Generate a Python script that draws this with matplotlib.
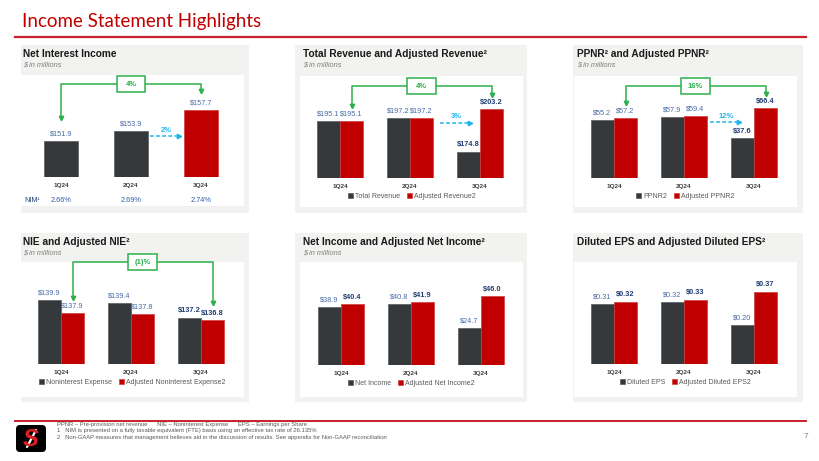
import numpy as np
import matplotlib.pyplot as plt
from matplotlib.patches import Rectangle, FancyBboxPatch
from matplotlib.transforms import blended_transform_factory

plt.rcParams['font.family'] = ['Liberation Sans', 'DejaVu Sans']

W, H = 820, 461

# data
quarters = ['1Q24', '2Q24', '3Q24']
nim = ['2.66%', '2.69%', '2.74%']
net_interest_income = [151.9, 153.9, 157.7]
total_revenue = [195.1, 197.2, 174.8]
adjusted_revenue = [195.1, 197.2, 203.2]
ppnr = [55.2, 57.9, 37.6]
adjusted_ppnr = [57.2, 59.4, 66.4]
nie = [139.9, 139.4, 137.2]
adjusted_nie = [137.9, 137.8, 136.8]
net_income = [38.9, 40.8, 24.7]
adjusted_net_income = [40.4, 41.9, 46.0]
diluted_eps = [0.31, 0.32, 0.20]
adjusted_diluted_eps = [0.32, 0.33, 0.37]

DARK = '#36393C'
RED = '#C00000'
GREEN = '#2DB04B'
CYAN = '#1DB6EA'
BLUE = '#4A6CA6'
NAVY = '#1F3D72'
PANEL = '#F2F2F0'

fig = plt.figure(figsize=(W / 100, H / 100), dpi=100)
bg = fig.add_axes([0, 0, 1, 1])
bg.set_xlim(0, W)
bg.set_ylim(H, 0)
bg.axis('off')

# slide title, rules, footer
bg.text(22, 22, 'Income Statement Highlights', color='#C00000', fontsize=13.5,
        family=['Lato', 'DejaVu Sans'], va='center')
bg.plot([15, 806], [37, 37], color='#C8202A', lw=1.6)
bg.plot([15, 806], [421, 421], color='#C8202A', lw=1.4)

foot = ['PPNR \u2013 Pre-provision net revenue      NIE \u2013 Noninterest Expense      EPS \u2013 Earnings per Share',
        '1   NIM is presented on a fully taxable equivalent (FTE) basis using an effective tax rate of 26.135%',
        '2   Non-GAAP measures that management believes aid in the discussion of results. See appendix for Non-GAAP reconciliation']
for i, line in enumerate(foot):
    bg.text(57, 424 + i * 6.5, line, fontsize=4.2, color='#595959', va='center')
bg.text(808, 436, '7', fontsize=6, color='#7F7F7F', ha='right', va='center')

# logo: black tile, red S, white slash
bg.add_patch(FancyBboxPatch((16, 425), 30, 27, boxstyle='round,pad=0,rounding_size=4',
                            fc='black', ec='none'))
bg.text(31, 439, 'S', fontsize=17, color='#E01E25', weight='bold', style='italic',
        ha='center', va='center')
bg.plot([27, 36], [447, 430], color='white', lw=1.6, solid_capstyle='round')

# panel backgrounds
grays = [(21, 45, 249, 213), (295, 45, 527, 213), (573, 45, 803, 213),
         (21, 233, 249, 402), (295, 233, 527, 402), (573, 233, 803, 402)]
whites = [(21, 75, 244, 206), (300, 76, 523, 207), (574, 76, 797, 207),
          (21, 262, 244, 397), (300, 262, 523, 397), (574, 262, 797, 397)]
for (l, t, r, b) in grays:
    bg.add_patch(Rectangle((l, t), r - l, b - t, fc=PANEL, ec='none'))
for (l, t, r, b) in whites:
    bg.add_patch(Rectangle((l, t), r - l, b - t, fc='white', ec='none'))

titles = [('Net Interest Income', 23, 54, True),
          ('Total Revenue and Adjusted Revenue\u00b2', 303, 54, True),
          ('PPNR\u00b2 and Adjusted PPNR\u00b2', 577, 54, True),
          ('NIE and Adjusted NIE\u00b2', 23, 242, True),
          ('Net Income and Adjusted Net Income\u00b2', 303, 242, True),
          ('Diluted EPS and Adjusted Diluted EPS\u00b2', 577, 242, False)]
for text, x, y, sub in titles:
    bg.text(x, y, text, fontsize=7.3, weight='bold', color='#1A1A1A', va='center')
    if sub:
        bg.text(x, y + 11, '$ in millions', fontsize=5.3, style='italic',
                color='#7F7F7F', va='center')


def chart_axes(left, top, right, base, c0, ylim, spacing=70):
    ax = fig.add_axes([left / W, 1 - base / H, (right - left) / W, (base - top) / H])
    ax.set_xlim((left - c0) / spacing, (right - c0) / spacing)
    ax.set_ylim(*ylim)
    ax.set_facecolor('none')
    for s in ax.spines.values():
        s.set_visible(False)
    ax.set_yticks([])
    ax.set_xticks(range(3))
    ax.set_xticklabels(quarters, fontsize=4.6, fontweight='bold', color='#404040')
    ax.tick_params(axis='x', length=0, pad=4)
    fy = lambda y: (base - y) / (base - top)
    tr = blended_transform_factory(ax.transData, ax.transAxes)
    return ax, fy, tr


def value_label(ax, x, v, fmt, bold):
    ax.annotate(fmt % v, (x, v), xytext=(0, 2.5), textcoords='offset points',
                ha='center', va='bottom', fontsize=5.3,
                color=NAVY if bold else BLUE, weight='bold' if bold else 'normal')


def grouped(ax, a, b, names, fmt, bold_a, bold_b, fy):
    w = 0.33
    x = np.arange(3)
    ax.bar(x - w / 2, a, w, color=DARK, edgecolor='#575b5f', lw=0.5, label=names[0])
    ax.bar(x + w / 2, b, w, color=RED, edgecolor='#D23C3C', lw=0.5, label=names[1])
    for i in range(3):
        value_label(ax, x[i] - w / 2, a[i], fmt, bold_a[i])
        value_label(ax, x[i] + w / 2, b[i], fmt, bold_b[i])
    # legend sits about 18 px below the bar baseline
    ax.legend(loc='center', bbox_to_anchor=(0.5, -(fy(0) - fy(18))),
              ncol=2, frameon=False, fontsize=5.0, labelcolor='#595959', handlelength=0.7,
              handleheight=0.7, handletextpad=0.3, columnspacing=1.0, borderaxespad=0)


def connector(ax, fy, tr, x1, x2, top, tip1, tip2, label):
    kw = dict(color=GREEN, lw=1.1, transform=tr, clip_on=False)
    ax.plot([x1, x1, x2, x2], [fy(tip1 - 3), fy(top), fy(top), fy(tip2 - 3)], **kw)
    ax.plot([x1, x2], [fy(tip1 - 2), fy(tip2 - 2)], ls='none', marker='v', ms=3.2,
            mec=GREEN, mfc=GREEN, transform=tr, clip_on=False)
    xm = (x1 + x2) / 2
    h = fy(0) - fy(16)
    ax.add_patch(Rectangle((xm - 0.207, fy(top) - h / 2), 0.414, h, fc='white', ec=GREEN,
                           lw=1.1, transform=tr, clip_on=False, zorder=3))
    ax.text(xm, fy(top), label, transform=tr, ha='center', va='center', color=GREEN,
            weight='bold', fontsize=5.5, zorder=4)


def growth(ax, fy, tr, x1, x2, y, label):
    ax.plot([x1, x2 - 0.06], [fy(y), fy(y)], color=CYAN, lw=1.1, ls=(0, (2.5, 1.5)),
            transform=tr, clip_on=False)
    ax.plot([x2 - 0.04], [fy(y)], marker='>', ms=3.2, color=CYAN, transform=tr,
            clip_on=False)
    ax.text((x1 + x2) / 2, fy(y - 6), label, transform=tr, ha='center', va='center',
            color=CYAN, weight='bold', fontsize=5.5)


# 1. Net interest income
ax, fy, tr = chart_axes(21, 75, 244, 177, 61, (145.2, 164.3))
ax.bar(range(3), net_interest_income, 0.49, color=[DARK, DARK, RED],
       edgecolor=['#575b5f', '#575b5f', '#D23C3C'], lw=0.5)
for i, v in enumerate(net_interest_income):
    value_label(ax, i, v, '$%.1f', False)
ax.text((24 - 61) / 70, fy(200), 'NIM\u00b9', transform=tr, fontsize=5.2, color=NAVY,
        va='center', ha='left')
for i, s in enumerate(nim):
    ax.text(i, fy(200), s, transform=tr, fontsize=5.3, color='#2E5AA8', va='center',
            ha='center')
connector(ax, fy, tr, 0, 2, 84, 120, 93, '4%')
growth(ax, fy, tr, (150 - 61) / 70, (182 - 61) / 70, 136, '2%')

# 2. Total revenue
ax, fy, tr = chart_axes(300, 76, 523, 178, 340, (157.6, 225.0))
grouped(ax, total_revenue, adjusted_revenue, ['Total Revenue', 'Adjusted Revenue2'],
        '$%.1f', [False, False, True], [False, False, True], fy)
connector(ax, fy, tr, 0.165, 2.165, 86, 108, 97, '4%')
growth(ax, fy, tr, (440 - 340) / 70, (473 - 340) / 70, 123, '3%')

# 3. PPNR
ax, fy, tr = chart_axes(574, 76, 797, 178, 614, (0, 97.0))
grouped(ax, ppnr, adjusted_ppnr, ['PPNR2', 'Adjusted PPNR2'],
        '$%.1f', [False, False, True], [False, False, True], fy)
connector(ax, fy, tr, 0.165, 2.165, 86, 105, 96, '16%')
growth(ax, fy, tr, (710 - 614) / 70, (742 - 614) / 70, 122, '12%')

# 4. NIE
ax, fy, tr = chart_axes(21, 262, 244, 364, 61, (130, 145.8))
grouped(ax, nie, adjusted_nie, ['Noninterest Expense', 'Adjusted Noninterest Expense2'],
        '$%.1f', [False, False, True], [False, False, True], fy)
connector(ax, fy, tr, 0.165, 2.165, 262, 300, 305, '(1)%')

# 5. Net income
ax, fy, tr = chart_axes(300, 262, 523, 365, 341, (0, 68.7))
grouped(ax, net_income, adjusted_net_income, ['Net Income', 'Adjusted Net Income2'],
        '$%.1f', [False, False, False], [True, True, True], fy)

# 6. Diluted EPS
ax, fy, tr = chart_axes(574, 262, 797, 364, 614, (0, 0.523))
grouped(ax, diluted_eps, adjusted_diluted_eps, ['Diluted EPS', 'Adjusted Diluted EPS2'],
        '$%.2f', [False, False, False], [True, True, True], fy)

fig.savefig('out.png', dpi=100)
